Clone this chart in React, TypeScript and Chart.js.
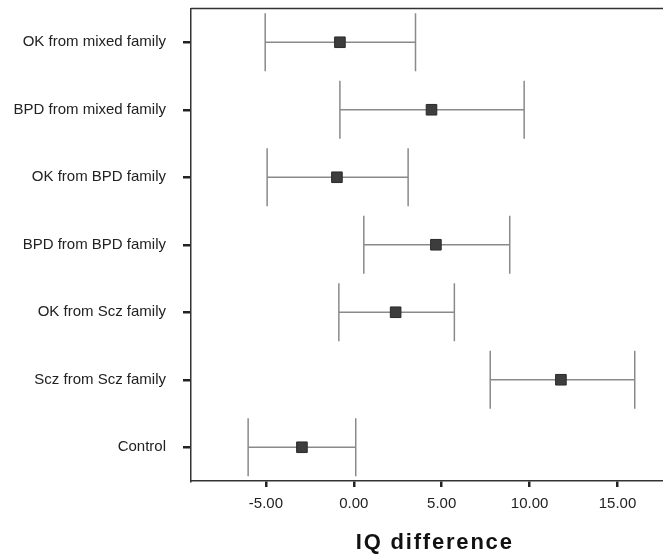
import React, { useEffect, useRef } from "react";
import { Chart, registerables } from "chart.js";

Chart.register(...registerables);

// Groups, top to bottom
const CATEGORIES = [
  "OK from mixed family",
  "BPD from mixed family",
  "OK from BPD family",
  "BPD from BPD family",
  "OK from Scz family",
  "Scz from Scz family",
  "Control",
];

// Mean IQ difference with lower / upper interval limits
const MEANS = [-0.79, 4.42, -0.96, 4.67, 2.38, 11.78, -2.95];
const LOWER = [-5.04, -0.79, -4.93, 0.57, -0.85, 7.76, -6.01];
const UPPER = [3.51, 9.69, 3.09, 8.87, 5.72, 15.98, 0.11];

const X_TICKS = [-5, 0, 5, 10, 15];
const X_MIN = -9.26;
const X_MAX = 17.9;
const X_TITLE = "IQ difference";

const FONT = "'Liberation Sans', Arial, sans-serif";

// Horizontal whiskers with end caps, drawn under the squares
const errorBars = {
  id: "errorBars",
  beforeDatasetsDraw(chart: any) {
    const { ctx, scales } = chart;
    const xs = scales.x;
    const ys = scales.y;
    const band = ys.getPixelForValue(1) - ys.getPixelForValue(0);
    const half = band * 0.43;
    ctx.save();
    ctx.strokeStyle = "#8a8a8a";
    ctx.lineWidth = 1.5;
    for (let i = 0; i < CATEGORIES.length; i++) {
      const y = ys.getPixelForValue(i);
      const x0 = xs.getPixelForValue(LOWER[i]);
      const x1 = xs.getPixelForValue(UPPER[i]);
      ctx.beginPath();
      ctx.moveTo(x0, y);
      ctx.lineTo(x1, y);
      ctx.moveTo(x0, y - half);
      ctx.lineTo(x0, y + half);
      ctx.moveTo(x1, y - half);
      ctx.lineTo(x1, y + half);
      ctx.stroke();
    }
    ctx.restore();
  },
};

// Top edge of the plot frame and the spaced-out axis title
const frameAndTitle = {
  id: "frameAndTitle",
  afterDraw(chart: any) {
    const { ctx, chartArea } = chart;
    ctx.save();
    ctx.strokeStyle = "#333";
    ctx.lineWidth = 1.5;
    ctx.beginPath();
    ctx.moveTo(chartArea.left, chartArea.top);
    ctx.lineTo(chart.width, chartArea.top);
    ctx.stroke();

    ctx.fillStyle = "#111";
    ctx.font = `bold 22px ${FONT}`;
    (ctx as any).letterSpacing = "1.8px";
    ctx.textAlign = "center";
    ctx.textBaseline = "alphabetic";
    ctx.fillText(X_TITLE, (chartArea.left + chartArea.right) / 2 + 5, chart.height - 9);
    ctx.restore();
  },
};

export default function App() {
  const ref = useRef<HTMLCanvasElement>(null);

  useEffect(() => {
    if (!ref.current) return;
    const chart = new Chart(ref.current, {
      type: "line",
      data: {
        labels: CATEGORIES,
        datasets: [
          {
            data: MEANS,
            showLine: false,
            pointStyle: "rect",
            pointRadius: 7.5,
            pointBackgroundColor: "#3d3d3d",
            pointBorderColor: "#2a2a2a",
            pointBorderWidth: 1,
          },
        ],
      },
      options: {
        indexAxis: "y",
        animation: false,
        responsive: false,
        layout: { padding: { top: 8, left: 0, right: 0, bottom: 0 } },
        plugins: {
          legend: { display: false },
          tooltip: { enabled: false },
        },
        scales: {
          x: {
            type: "linear",
            min: X_MIN,
            max: X_MAX,
            afterBuildTicks: (scale: any) => {
              scale.ticks = X_TICKS.map((v) => ({ value: v }));
            },
            afterFit: (scale: any) => {
              scale.height = 77;
              scale.paddingLeft = 0;
              scale.paddingRight = 0;
            },
            border: { display: true, color: "#333", width: 1.5 },
            grid: {
              display: true,
              drawOnChartArea: false,
              drawTicks: true,
              tickLength: 6,
              lineWidth: 2.5,
              color: "#222",
            },
            ticks: {
              padding: 8,
              color: "#222",
              font: { family: FONT, size: 15 },
              callback: (v: any) => Number(v).toFixed(2),
            },
          },
          y: {
            type: "category",
            offset: true,
            afterFit: (scale: any) => {
              scale.width = 191;
              scale.paddingTop = 0;
              scale.paddingBottom = 0;
            },
            border: { display: true, color: "#333", width: 1.5 },
            grid: {
              display: true,
              drawOnChartArea: false,
              drawTicks: true,
              tickLength: 8,
              lineWidth: 2.5,
              color: "#222",
              offset: false,
            },
            ticks: {
              padding: 17,
              color: "#222",
              font: { family: FONT, size: 15 },
            },
          },
        },
      },
      plugins: [errorBars, frameAndTitle],
    });
    return () => chart.destroy();
  }, []);

  return (
    <div
      style={{
        position: "absolute",
        left: 0,
        top: 0,
        width: 663,
        height: 558,
        overflow: "hidden",
        background: "#fff",
      }}
    >
      <canvas ref={ref} width={677} height={558} style={{ display: "block" }} />
    </div>
  );
}
